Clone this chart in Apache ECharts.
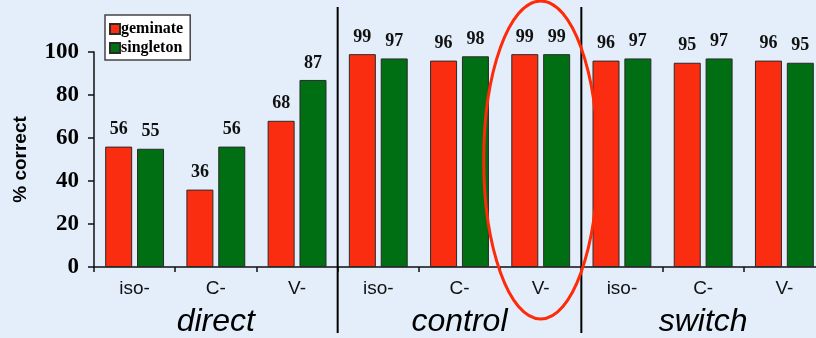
<!DOCTYPE html>
<html>
<head>
<meta charset="utf-8">
<script src="https://cdn.jsdelivr.net/npm/echarts@6/dist/echarts.min.js"></script>
<style>
  html, body { margin: 0; padding: 0; background: #E3EEFA; }
  #chart { width: 816px; height: 338px; }
</style>
</head>
<body>
<div id="chart"></div>
<script>
// Conditions (three per group) and the groups they belong to
const categories = ['iso-', 'C-', 'V-', 'iso-', 'C-', 'V-', 'iso-', 'C-', 'V-'];
const groups = ['direct', 'control', 'switch'];

// Percent correct per condition
const geminate = [56, 36, 68, 99, 96, 99, 96, 95, 96];
const singleton = [55, 56, 87, 97, 98, 99, 97, 97, 95];

const yTicks = { min: 0, max: 100, interval: 20 };

const RED = '#FB2D10';
const GREEN = '#006E12';
const serif = '"Liberation Serif", "Times New Roman", serif';
const sans = '"Liberation Sans", Arial, sans-serif';

const chart = echarts.init(document.getElementById('chart'));

const valueLabel = {
  show: true,
  position: 'top',
  distance: 8,
  fontFamily: serif,
  fontWeight: 'bold',
  fontSize: 18,
  color: '#111'
};

chart.setOption({
  backgroundColor: '#E3EEFA',
  animation: false,
  grid: { left: 94, top: 52, width: 731, height: 215, containLabel: false, outerBoundsMode: 'none' },
  legend: {
    orient: 'vertical',
    left: 105,
    top: 15,
    padding: [6, 7, 4, 4],
    itemGap: 3,
    itemWidth: 10,
    itemHeight: 10,
    icon: 'rect',
    backgroundColor: '#FFFFFF',
    borderColor: '#444',
    borderWidth: 1.5,
    borderRadius: 0,
    textStyle: { fontFamily: serif, fontWeight: 'bold', fontSize: 16, color: '#000', padding: [0, 0, 0, -4] },
    data: ['geminate', 'singleton']
  },
  xAxis: [
    {
      type: 'category',
      data: categories,
      axisLine: { lineStyle: { color: '#111', width: 1.5 } },
      axisTick: { show: true, length: 5, lineStyle: { color: '#111', width: 1.5 } },
      axisLabel: { fontFamily: sans, fontSize: 19, color: '#111', margin: 12, interval: 0 }
    },
    {
      type: 'category',
      data: groups,
      position: 'bottom',
      offset: 33,
      axisLine: { show: false },
      axisTick: { show: false },
      axisLabel: { fontFamily: sans, fontStyle: 'italic', fontSize: 32, color: '#000', margin: 6, interval: 0 }
    }
  ],
  yAxis: {
    type: 'value',
    min: yTicks.min,
    max: yTicks.max,
    interval: yTicks.interval,
    name: '% correct',
    nameLocation: 'middle',
    nameGap: 64,
    nameTextStyle: { fontFamily: sans, fontWeight: 'bold', fontSize: 19, color: '#000' },
    axisLine: { show: true, lineStyle: { color: '#111', width: 1.5 } },
    axisTick: { show: true, length: 6, lineStyle: { color: '#111', width: 1.5 } },
    splitLine: { show: false },
    axisLabel: { fontFamily: serif, fontWeight: 'bold', fontSize: 23, color: '#000', margin: 15 }
  },
  series: [
    {
      name: 'geminate',
      type: 'bar',
      data: geminate,
      barWidth: 27,
      barGap: '18%',
      itemStyle: { color: RED, borderColor: '#2a2a2a', borderWidth: 1 },
      label: valueLabel
    },
    {
      name: 'singleton',
      type: 'bar',
      data: singleton,
      barWidth: 27,
      itemStyle: { color: GREEN, borderColor: '#2a2a2a', borderWidth: 1 },
      label: valueLabel
    }
  ]
});

// Group separators between the category groups, and the ring around control V-
function px(i) { return chart.convertToPixel({ xAxisIndex: 0 }, i); }
const sep1 = (px(2) + px(3)) / 2;
const sep2 = (px(5) + px(6)) / 2;
const ringX = px(5);

chart.setOption({
  graphic: [
    { type: 'line', shape: { x1: sep1, y1: 7, x2: sep1, y2: 333 }, style: { stroke: '#000', lineWidth: 2 }, z: 50 },
    { type: 'line', shape: { x1: sep2, y1: 7, x2: sep2, y2: 333 }, style: { stroke: '#000', lineWidth: 2 }, z: 50 },
    { type: 'ellipse', shape: { cx: ringX, cy: 160, rx: 57, ry: 159 }, style: { fill: null, stroke: '#FF2A08', lineWidth: 3 }, z: 60 }
  ]
});
</script>
</body>
</html>
